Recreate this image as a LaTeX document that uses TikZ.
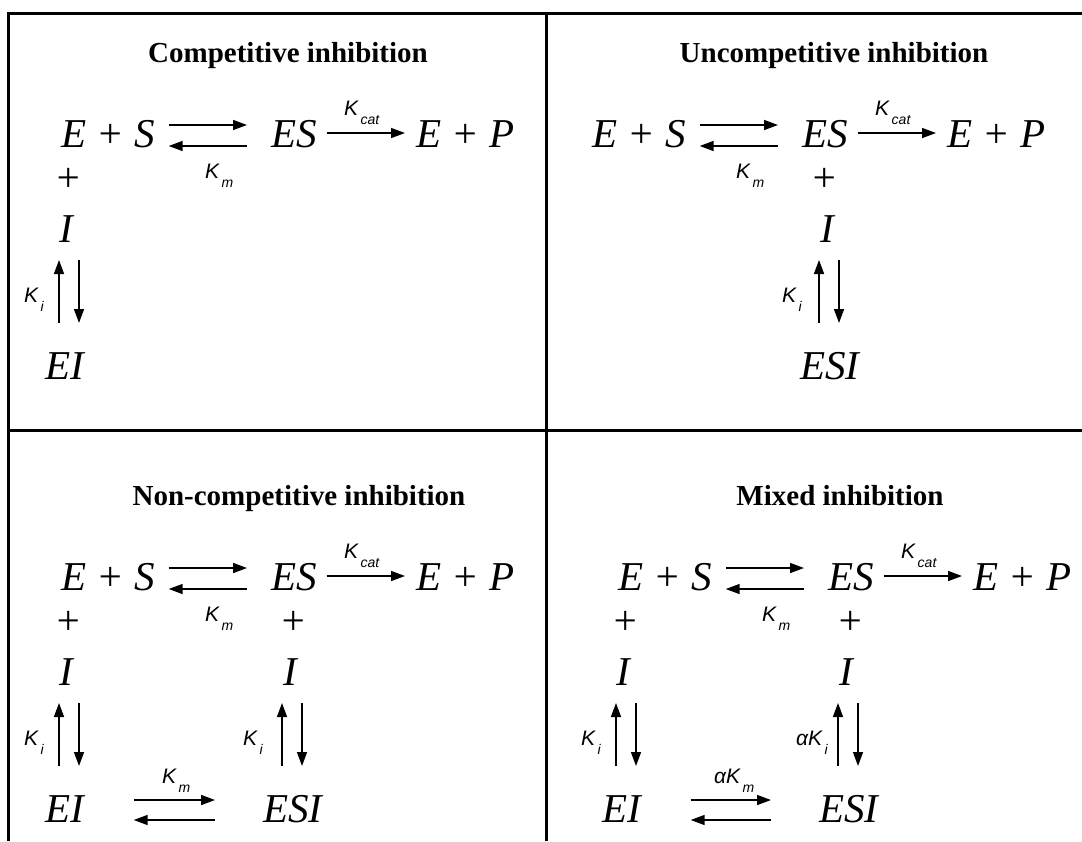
\documentclass[tikz,border=0pt]{standalone}
\usepackage{fontspec}
\setmainfont{Liberation Serif}
\newfontfamily\labfont{Liberation Sans}
\usetikzlibrary{arrows.meta}

\tikzset{
  chem/.style={inner sep=0pt, outer sep=0pt, font=\fontsize{41}{41}\selectfont\itshape},
  ttl/.style={inner sep=0pt, font=\fontsize{29}{29}\selectfont\bfseries, anchor=base},
  klab/.style={inner sep=0pt, anchor=base west},
  rx/.style={line width=1.5pt, -{Triangle[length=14pt,width=10pt]}},
  frame/.style={line width=3pt},
}
\newcommand{\K}[2]{{\labfont\itshape\fontsize{21}{21}\selectfont #1\hspace{2.5pt}\raisebox{-9pt}{\fontsize{14}{14}\selectfont #2}}}

% top reaction row, common to all four panels
\newcommand{\toprow}[1]{%
  \node[chem, anchor=base west] (#1ES) at (0,0) {E + S};
  \node[chem, anchor=base west] (#1C) at (210,0) {ES};
  \node[chem, anchor=base west] (#1EP) at (355,0) {E + P};
  \draw[rx] ([xshift=14pt,yshift=22pt]#1ES.base east) -- ([xshift=-24pt,yshift=22pt]#1C.base west);
  \draw[rx] ([xshift=-24pt,yshift=1pt]#1C.base west) -- ([xshift=14pt,yshift=1pt]#1ES.base east);
  \draw[rx] ([xshift=10pt,yshift=14pt]#1C.base east) -- ([xshift=-11pt,yshift=14pt]#1EP.base west);
  \node[klab] (#1kc) at (283,-32) {\K{K}{cat}};
  \node[klab] (#1km) at (144,31) {\K{K}{m}};
}
% left column: + I <-> EI
\newcommand{\leftcol}[1]{%
  \node[chem] (#1pl) at (7,33) {+};
  \node[chem, anchor=base] (#1IL) at (5,95) {I};
  \node[chem, anchor=base west] (#1EI) at (-16,232) {EI};
  \draw[rx] ([xshift=-7pt,yshift=-81pt]#1IL.base) -- ([xshift=-7pt,yshift=-18pt]#1IL.base);
  \draw[rx] ([xshift=13pt,yshift=-18pt]#1IL.base) -- ([xshift=13pt,yshift=-81pt]#1IL.base);
  \node[klab] (#1kil) at (-37,155) {\K{K}{i}};
}
% right column: + I <-> ESI ; #2 = x of I, #3 = label, #4 = label x
\newcommand{\rightcol}[4]{%
  \node[chem] (#1pr) at (232,33) {+};
  \node[chem, anchor=base] (#1IR) at (#2,95) {I};
  \node[chem, anchor=base west] (#1ESI) at ([xshift=-27pt]#1IR.base |- 0,232) {ESI};
  \draw[rx] ([xshift=-8pt,yshift=-81pt]#1IR.base) -- ([xshift=-8pt,yshift=-18pt]#1IR.base);
  \draw[rx] ([xshift=12pt,yshift=-18pt]#1IR.base) -- ([xshift=12pt,yshift=-81pt]#1IR.base);
  \node[klab] (#1kir) at (#4,155) {#3};
}
% bottom: EI <-> ESI
\newcommand{\bottomrow}[3]{%
  \draw[rx] ([xshift=50pt,yshift=22pt]#1EI.base east) -- ([xshift=-48pt,yshift=22pt]#1ESI.base west);
  \draw[rx] ([xshift=-48pt,yshift=2pt]#1ESI.base west) -- ([xshift=50pt,yshift=2pt]#1EI.base east);
  \node[klab] (#1kb) at (#3,193) {#2};
}

\begin{document}
\begin{tikzpicture}[x=1pt,y=-1pt]
\useasboundingbox (0,0) rectangle (1082,841);
\fill[white] (0,0) rectangle (1082,841);

% frame
\draw[frame] (8.7,841) -- (8.7,13) -- (1082,13);
\draw[frame] (546.5,13) -- (546.5,841);
\draw[frame] (8.7,430) -- (1082,430);

% titles
\node[ttl] (t1) at (288,62) {Competitive inhibition};
\node[ttl] (t2) at (834,62) {Uncompetitive inhibition};
\node[ttl] (t3) at (299,505) {Non-competitive inhibition};
\node[ttl] (t4) at (840,505) {Mixed inhibition};

% competitive
\begin{scope}[shift={(61,147)}]
  \toprow{a}
  \leftcol{a}
\end{scope}

% uncompetitive
\begin{scope}[shift={(592,147)}]
  \toprow{b}
  \rightcol{b}{235}{\K{K}{i}}{190}
\end{scope}

% non-competitive
\begin{scope}[shift={(61,590)}]
  \toprow{c}
  \leftcol{c}
  \rightcol{c}{229}{\K{K}{i}}{182}
  \bottomrow{c}{\K{K}{m}}{101}
\end{scope}

% mixed
\begin{scope}[shift={(618,590)}]
  \toprow{d}
  \leftcol{d}
  \rightcol{d}{228}{\K{αK}{i}}{178}
  \bottomrow{d}{\K{αK}{m}}{96}
\end{scope}
\end{tikzpicture}
\end{document}
